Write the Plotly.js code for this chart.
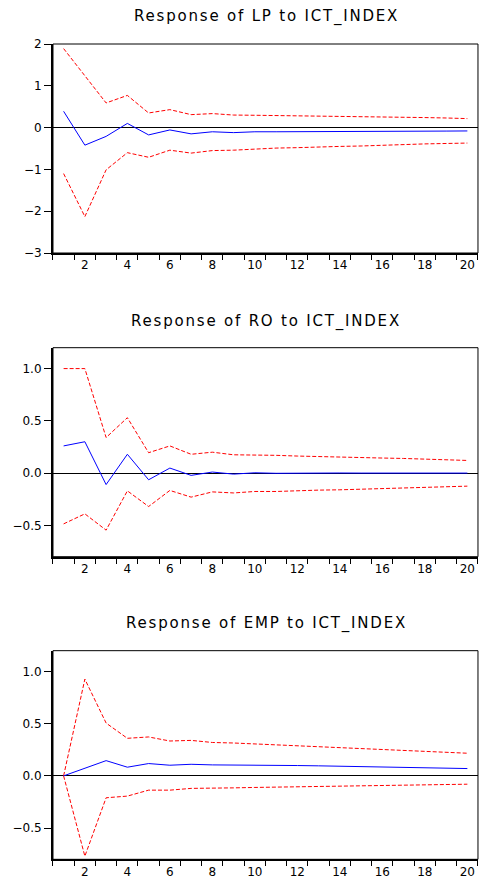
<!DOCTYPE html>
<html>
<head>
<meta charset="utf-8">
<script src="https://cdn.plot.ly/plotly-3.0.1.min.js"></script>
<style>
html,body{margin:0;padding:0;background:#fff;}
#chart{width:480px;height:880px;}
.annotation-text{letter-spacing:1.8px;}
</style>
</head>
<body>
<div id="chart"></div>
<script>
const periods = [1,2,3,4,5,6,7,8,9,10,11,12,13,14,15,16,17,18,19,20];
const xTickVals = [2,4,6,8,10,12,14,16,18,20];
const xTickText = ["2","4","6","8","10","12","14","16","18","20"];

const titles = ["Response of LP to ICT_INDEX", "Response of RO to ICT_INDEX", "Response of EMP to ICT_INDEX"];

// LP
const lpResp  = [0.39,-0.42,-0.21,0.10,-0.175,-0.056,-0.15,-0.10,-0.12,-0.10,-0.10,-0.10,-0.095,-0.095,-0.09,-0.09,-0.088,-0.085,-0.083,-0.08];
const lpUpper = [1.89,1.24,0.59,0.77,0.35,0.43,0.31,0.335,0.30,0.295,0.29,0.28,0.275,0.27,0.26,0.255,0.25,0.24,0.23,0.215];
const lpLower = [-1.10,-2.13,-1.01,-0.60,-0.71,-0.54,-0.61,-0.55,-0.54,-0.51,-0.49,-0.48,-0.46,-0.45,-0.44,-0.42,-0.41,-0.39,-0.38,-0.37];

// RO
const roResp  = [0.26,0.30,-0.11,0.18,-0.064,0.048,-0.022,0.01,-0.01,0.003,-0.002,0.001,0.0,0.001,0.0,0.0,0.001,0.0,0.0,0.0];
const roUpper = [1.00,1.00,0.34,0.53,0.195,0.26,0.18,0.20,0.175,0.175,0.17,0.163,0.16,0.153,0.15,0.144,0.14,0.134,0.128,0.121];
const roLower = [-0.486,-0.39,-0.546,-0.17,-0.32,-0.166,-0.23,-0.18,-0.19,-0.176,-0.176,-0.166,-0.163,-0.16,-0.153,-0.15,-0.144,-0.137,-0.131,-0.125];

// EMP
const empResp  = [0.0,0.076,0.146,0.083,0.118,0.102,0.111,0.105,0.105,0.102,0.10,0.099,0.096,0.092,0.089,0.086,0.083,0.08,0.076,0.07];
const empUpper = [0.0,0.927,0.506,0.36,0.373,0.334,0.34,0.32,0.315,0.306,0.296,0.287,0.277,0.267,0.258,0.25,0.242,0.236,0.226,0.217];
const empLower = [0.0,-0.77,-0.21,-0.194,-0.137,-0.137,-0.12,-0.12,-0.115,-0.111,-0.108,-0.105,-0.102,-0.099,-0.096,-0.092,-0.089,-0.086,-0.083,-0.08];

const yTicks1 = [-3,-2,-1,0,1,2];
const yTicks2 = [-0.5,0,0.5,1.0];
const yTicks3 = [-0.5,0,0.5,1.0];

const panels = [
  {resp: lpResp, up: lpUpper, lo: lpLower, yr: [-3,2], yt: yTicks1, fmt: "d", dom: [0.7125, 0.95], title: titles[0], ty: 17},
  {resp: roResp, up: roUpper, lo: roLower, yr: [-0.8,1.2], yt: yTicks2, fmt: ".1f", dom: [0.3674, 0.6049], title: titles[1], ty: 321},
  {resp: empResp, up: empUpper, lo: empLower, yr: [-0.8,1.2], yt: yTicks3, fmt: ".1f", dom: [0.0235, 0.2606], title: titles[2], ty: 623}
];

const tickFont = {family: "DejaVu Sans, Arial, sans-serif", size: 12, color: "#000"};
const data = [];
const layout = {
  width: 480, height: 880,
  margin: {l: 0, r: 0, t: 0, b: 0},
  paper_bgcolor: "#fff", plot_bgcolor: "#fff",
  showlegend: false,
  annotations: [], shapes: []
};

panels.forEach((p, i) => {
  const sx = i === 0 ? "" : String(i + 1);
  const xa = "x" + sx, ya = "y" + sx;
  data.push({x: periods, y: p.up, xaxis: xa, yaxis: ya, type: "scatter", mode: "lines",
    line: {color: "#ff0000", width: 1, dash: "4px,2px"}, hoverinfo: "skip"});
  data.push({x: periods, y: p.lo, xaxis: xa, yaxis: ya, type: "scatter", mode: "lines",
    line: {color: "#ff0000", width: 1, dash: "4px,2px"}, hoverinfo: "skip"});
  data.push({x: periods, y: p.resp, xaxis: xa, yaxis: ya, type: "scatter", mode: "lines",
    line: {color: "#0000ff", width: 1}, hoverinfo: "skip"});

  layout["xaxis" + sx] = {
    domain: [0.1104, 0.9958], range: [0.5, 20.5], anchor: ya,
    tickmode: "array", tickvals: xTickVals, ticktext: xTickText,
    ticks: "",
    minor: {tick0: 0.5, dtick: 1, ticks: "outside", ticklen: 5, tickwidth: 1, tickcolor: "#000", showgrid: false},
    showline: true, linecolor: "#000", linewidth: 2,
    showgrid: false, zeroline: false, tickfont: tickFont, fixedrange: true
  };
  layout["yaxis" + sx] = {
    domain: p.dom, range: p.yr, anchor: xa,
    tickmode: "array", tickvals: p.yt, tickformat: p.fmt,
    ticks: "outside", ticklen: 7, tickwidth: 1, tickcolor: "#000",
    showline: true, linecolor: "#000", linewidth: 2,
    showgrid: false, zeroline: true, zerolinecolor: "#000", zerolinewidth: 1,
    tickfont: tickFont, fixedrange: true
  };
  layout.shapes.push({type: "rect", xref: xa + " domain", yref: ya + " domain",
    x0: 0, x1: 1, y0: 0, y1: 1, line: {color: "#000", width: 1}, layer: "above"});
  layout.annotations.push({
    text: p.title, xref: "paper", yref: "paper",
    x: 266 / 480, y: 1 - p.ty / 880, xanchor: "center", yanchor: "middle",
    showarrow: false,
    font: {family: "DejaVu Sans, Arial, sans-serif", size: 15, color: "#000"}
  });
});

Plotly.newPlot("chart", data, layout, {staticPlot: true, displayModeBar: false});
</script>
</body>
</html>
